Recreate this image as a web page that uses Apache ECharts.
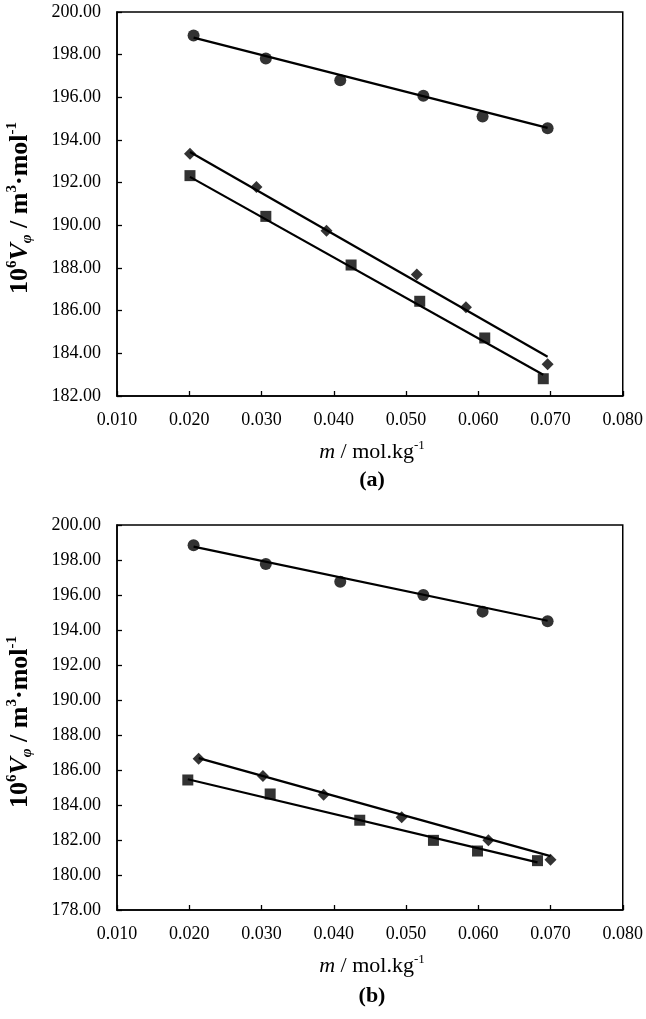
<!DOCTYPE html>
<html><head><meta charset="utf-8">
<script src="https://cdn.jsdelivr.net/npm/echarts@6/dist/echarts.min.js"></script>
<style>html,body{margin:0;padding:0;background:#fff}#c{width:646px;height:1019px}</style>
</head><body><div id="c"></div>
<script>
// ---- data ----
// panel (a)
const aCircleM = [0.0206, 0.0306, 0.0409, 0.0524, 0.0606, 0.0696];
const aCircleV = [198.90, 197.82, 196.80, 196.07, 195.10, 194.55];
const aDiamondM = [0.0201, 0.0293, 0.0390, 0.0515, 0.0583, 0.0696];
const aDiamondV = [193.35, 191.80, 189.75, 187.69, 186.16, 183.49];
const aSquareM = [0.0201, 0.0306, 0.0424, 0.0519, 0.0609, 0.0690];
const aSquareV = [192.33, 190.42, 188.14, 186.44, 184.72, 182.81];
// fitted straight lines (end points)
const aCircleFitM = [0.0206, 0.0696], aCircleFitV = [198.80, 194.57];
const aDiamondFitM = [0.0201, 0.0696], aDiamondFitV = [193.44, 183.84];
const aSquareFitM = [0.0201, 0.0690], aSquareFitV = [192.27, 183.00];
// panel (b)
const bCircleM = [0.0206, 0.0306, 0.0409, 0.0524, 0.0606, 0.0696];
const bCircleV = [198.84, 197.77, 196.76, 196.00, 195.05, 194.50];
const bDiamondM = [0.0213, 0.0302, 0.0386, 0.0494, 0.0614, 0.0700];
const bDiamondV = [186.65, 185.66, 184.59, 183.30, 181.98, 180.87];
const bSquareM = [0.0198, 0.0312, 0.0436, 0.0538, 0.0599, 0.0682];
const bSquareV = [185.43, 184.63, 183.13, 181.98, 181.37, 180.82];
const bCircleFitM = [0.0206, 0.0696], bCircleFitV = [198.76, 194.53];
const bDiamondFitM = [0.0213, 0.0700], bDiamondFitV = [186.68, 181.08];
const bSquareFitM = [0.0198, 0.0682], bSquareFitV = [185.47, 180.72];
// axes
const xMin = 0.010, xMax = 0.080, xStep = 0.010;
const aYMin = 182, aYMax = 200, bYMin = 178, bYMax = 200, yStep = 2;
const panelLabels = ['(a)', '(b)'];

const zip = (m, v) => m.map((x, i) => [x, v[i]]);
const SERIF = '"Liberation Serif","DejaVu Serif",serif';

function xAxisFor(gi) {
  return {
    type: 'value', gridIndex: gi, min: xMin, max: xMax, interval: xStep,
    axisLine: {show: true, lineStyle: {color: '#000', width: 1.5}},
    axisTick: {show: true, inside: true, length: 5, lineStyle: {color: '#000', width: 1.3}},
    splitLine: {show: false},
    axisLabel: {color: '#000', fontSize: 18, fontFamily: SERIF, margin: 15,
      formatter: v => v.toFixed(3)}
  };
}
function yAxisFor(gi, mn, mx) {
  return {
    type: 'value', gridIndex: gi, min: mn, max: mx, interval: yStep,
    axisLine: {show: true, lineStyle: {color: '#000', width: 1.5}},
    axisTick: {show: true, inside: true, length: 5, lineStyle: {color: '#000', width: 1.3}},
    splitLine: {show: false},
    axisLabel: {color: '#000', fontSize: 18, fontFamily: SERIF, margin: 16,
      formatter: v => v.toFixed(2)}
  };
}
function scatter(gi, data, symbol, size) {
  return {type: 'scatter', xAxisIndex: gi, yAxisIndex: gi, data, symbol, symbolSize: size,
    itemStyle: {color: '#000'}, z: 3, silent: true};
}
function fit(gi, data) {
  return {type: 'line', xAxisIndex: gi, yAxisIndex: gi, data, showSymbol: false, symbol: 'none',
    lineStyle: {color: '#000', width: 2.2}, z: 2, silent: true, animation: false};
}
const richY = {
  b: {fontSize: 26, fontWeight: 'bold', fontFamily: SERIF, color: '#000', lineHeight: 30},
  i: {fontSize: 26, fontWeight: 'bold', fontStyle: 'italic', fontFamily: SERIF, color: '#000', lineHeight: 30},
  sup: {fontSize: 15, fontWeight: 'bold', fontFamily: SERIF, color: '#000', lineHeight: 15, verticalAlign: 'top'},
  sub: {fontSize: 15, fontWeight: 'bold', fontStyle: 'italic', fontFamily: SERIF, color: '#000', lineHeight: 15, verticalAlign: 'bottom'}
};
const richX = {
  r: {fontSize: 22, fontFamily: SERIF, color: '#000', lineHeight: 26},
  i: {fontSize: 22, fontStyle: 'italic', fontFamily: SERIF, color: '#000', lineHeight: 26},
  sup: {fontSize: 13, fontFamily: SERIF, color: '#000', lineHeight: 13, verticalAlign: 'top'}
};
const yNameText = '{b|10}{sup|6}{i|V}{sub|φ}{b| / m}{sup|3}{b|·mol}{sup|-1}';
const xNameText = '{i|m}{r| / mol.kg}{sup|-1}';

function yName(x, y) {
  return {type: 'text', x, y, rotation: Math.PI / 2,
    style: {text: yNameText, rich: richY, align: 'center', verticalAlign: 'middle', textAlign: 'center', textVerticalAlign: 'middle'}};
}
function xNameG(x, y) {
  return {type: 'text', x, y,
    style: {text: xNameText, rich: richX, align: 'center', verticalAlign: 'middle', textAlign: 'center', textVerticalAlign: 'middle'}};
}
function panelG(txt, x, y) {
  return {type: 'text', x, y,
    style: {text: txt, font: 'bold 22px ' + SERIF, fill: '#000', align: 'center', verticalAlign: 'middle', textAlign: 'center', textVerticalAlign: 'middle'}};
}

const chart = echarts.init(document.getElementById('c'), null, {renderer: 'canvas'});
chart.setOption({
  animation: false,
  backgroundColor: '#fff',
  grid: [
    {left: 117, top: 12, width: 508, height: 384, show: true, borderColor: '#000', borderWidth: 1.5, backgroundColor: 'transparent'},
    {left: 117, top: 525, width: 508, height: 385, show: true, borderColor: '#000', borderWidth: 1.5, backgroundColor: 'transparent'}
  ],
  xAxis: [xAxisFor(0), xAxisFor(1)],
  yAxis: [yAxisFor(0, aYMin, aYMax), yAxisFor(1, bYMin, bYMax)],
  series: [
    fit(0, zip(aCircleFitM, aCircleFitV)),
    fit(0, zip(aDiamondFitM, aDiamondFitV)),
    fit(0, zip(aSquareFitM, aSquareFitV)),
    scatter(0, zip(aCircleM, aCircleV), 'circle', 12),
    scatter(0, zip(aDiamondM, aDiamondV), 'diamond', 12),
    scatter(0, zip(aSquareM, aSquareV), 'rect', 11),
    fit(1, zip(bCircleFitM, bCircleFitV)),
    fit(1, zip(bDiamondFitM, bDiamondFitV)),
    fit(1, zip(bSquareFitM, bSquareFitV)),
    scatter(1, zip(bCircleM, bCircleV), 'circle', 12),
    scatter(1, zip(bDiamondM, bDiamondV), 'diamond', 12),
    scatter(1, zip(bSquareM, bSquareV), 'rect', 11)
  ],
  graphic: [
    yName(20, 208),
    yName(20, 722),
    xNameG(372, 452),
    xNameG(372, 966),
    panelG(panelLabels[0], 372, 480),
    panelG(panelLabels[1], 372, 996)
  ]
});
</script></body></html>
